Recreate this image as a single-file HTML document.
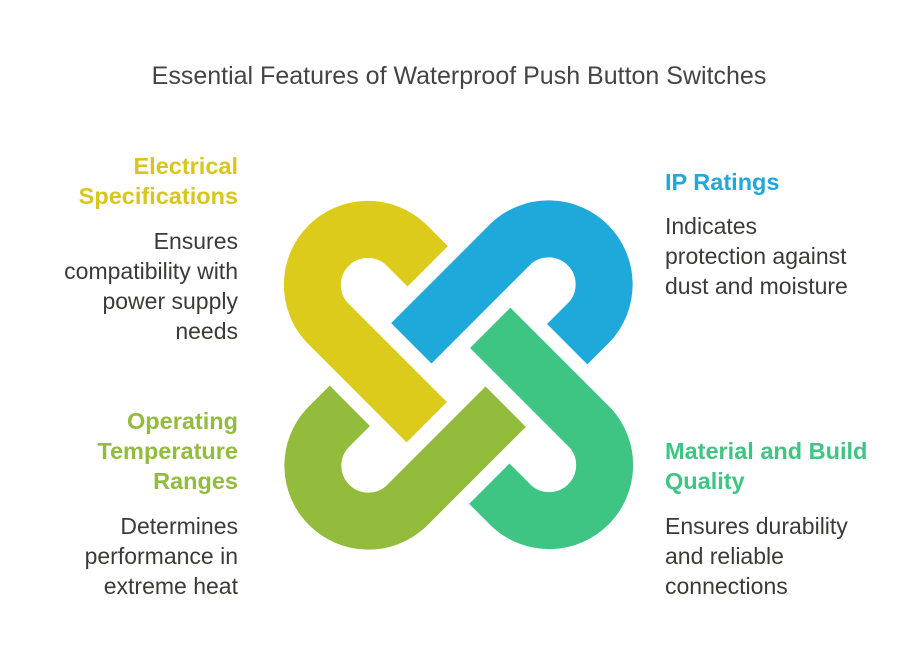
<!DOCTYPE html>
<html><head><meta charset="utf-8"><style>
html,body{margin:0;padding:0;background:#fff;}
body{width:918px;height:663px;position:relative;overflow:hidden;font-family:"Liberation Sans",sans-serif;}
.t{position:absolute;white-space:nowrap;line-height:30px;font-size:23px;color:#3b3b35;}
.h{font-weight:bold;font-size:23.5px;}
.r{text-align:right;right:680px;}
.l{left:665px;}
</style></head><body>
<div class="t" style="left:0;width:918px;text-align:center;top:61px;font-size:25px;color:#444;">Essential Features of Waterproof Push Button Switches</div>

<svg width="918" height="663" style="position:absolute;left:0;top:0">
<defs>
<path id="hk" d="M427.7 266.3 L405.2 243.8 A55.5 55.5 0 0 0 326.8 322.2 L426.8 422.2" fill="none" stroke-width="57" stroke-linecap="butt"/>
</defs>
<use href="#hk" stroke="#DCCB1A"/>
<use href="#hk" stroke="#1FA8DA" transform="rotate(90 458.5 375)"/>
<use href="#hk" stroke="#3EC584" transform="rotate(180 458.5 375)"/>
<use href="#hk" stroke="#93BC3C" transform="rotate(270 458.5 375)"/>
</svg>

<div class="t h r" style="top:151px;color:#D9C61C">Electrical<br>Specifications</div>
<div class="t r" style="top:226px">Ensures<br>compatibility with<br>power supply<br>needs</div>
<div class="t h r" style="top:406px;color:#93BC3C">Operating<br>Temperature<br>Ranges</div>
<div class="t r" style="top:511px">Determines<br>performance in<br>extreme heat</div>

<div class="t h l" style="top:167px;color:#1FA8DA">IP Ratings</div>
<div class="t l" style="top:211px">Indicates<br>protection against<br>dust and moisture</div>
<div class="t h l" style="top:436px;color:#3EC584">Material and Build<br>Quality</div>
<div class="t l" style="top:511px">Ensures durability<br>and reliable<br>connections</div>
</body></html>
